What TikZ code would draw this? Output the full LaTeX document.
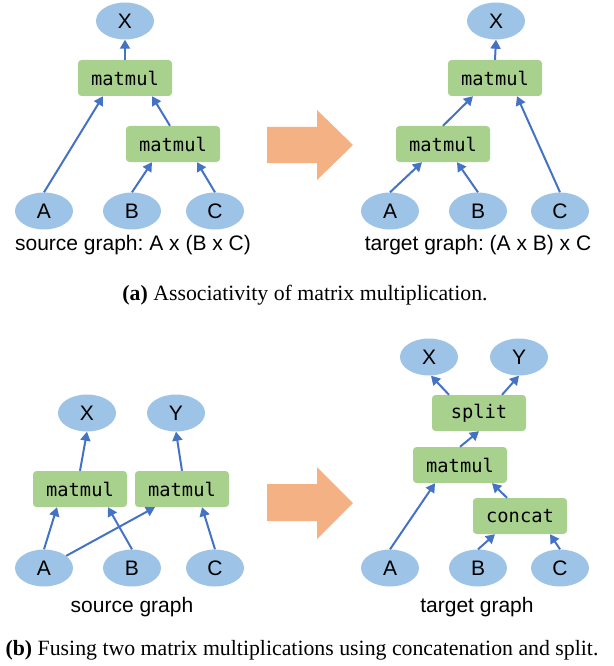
\documentclass[tikz,border=0pt]{standalone}
\usepackage{fontspec}
\setmainfont{Liberation Serif}
\newfontfamily\arialfont{Liberation Sans}
\newfontfamily\monofont{DejaVu Sans Mono}
\usetikzlibrary{arrows.meta,shapes.geometric}
\definecolor{ellblue}{HTML}{9DC3E6}
\definecolor{opgreen}{HTML}{A9D18E}
\definecolor{edgeblue}{HTML}{4472C4}
\definecolor{bigorange}{HTML}{F4B183}
\frenchspacing
\tikzset{
  tensor/.style={ellipse, fill=ellblue, draw=none, minimum width=58pt, minimum height=37pt, inner sep=0pt, font=\arialfont\fontsize{21}{24}\selectfont},
  opbox/.style={rectangle, rounded corners=3.5pt, fill=opgreen, draw=none, minimum width=94pt, minimum height=36pt, inner sep=0pt, font=\monofont\fontsize{18.7}{22}\selectfont},
  flow/.style={draw=edgeblue, line width=2pt, -{Triangle[length=9pt,width=10pt]}},
  graphlabel/.style={font=\arialfont\fontsize{21}{24}\selectfont, inner sep=0pt},
  captionlabel/.style={font=\fontsize{21.8}{24}\selectfont, inner sep=0pt},
  bigarrow/.style={fill=bigorange, draw=none}
}
\begin{document}
\begin{tikzpicture}[x=1pt,y=-1pt]
\useasboundingbox (0,0) rectangle (613,666);

% ---------- (a) source ----------
\node[tensor] (aX) at (125,21) {X};
\node[opbox] (am1) at (125,78) {matmul};
\node[opbox] (am2) at (173,144) {matmul};
\node[tensor] (aA) at (44,211) {A};
\node[tensor] (aB) at (132,211) {B};
\node[tensor] (aC) at (215,211) {C};
\draw[flow] (aA.north) -- ([xshift=-22pt]am1.south);
\draw[flow] ([xshift=-3pt]am2.north) -- ([xshift=27pt]am1.south);
\draw[flow] (aB.north) -- ([xshift=-21pt]am2.south);
\draw[flow] (aC.north) -- ([xshift=24pt]am2.south);
\draw[flow] (am1.north) -- (aX.south);
\node[graphlabel] (alabs) at (133,245) {source graph: A x (B x C)};

% big arrow (a)
\path[bigarrow] (267,127) -- (317,127) -- (317,110) -- (353,145) -- (317,180) -- (317,163) -- (267,163) -- cycle;

% ---------- (a) target ----------
\node[tensor] (tX) at (496,21) {X};
\node[opbox] (tmt) at (495,78) {matmul};
\node[opbox] (tml) at (443,144) {matmul};
\node[tensor] (tA) at (390,211) {A};
\node[tensor] (tB) at (478,211) {B};
\node[tensor] (tC) at (560,211) {C};
\draw[flow] (tA.north) -- ([xshift=-21pt]tml.south);
\draw[flow] (tB.north) -- ([xshift=14pt]tml.south);
\draw[flow] (tml.north) -- ([xshift=-22pt]tmt.south);
\draw[flow] (tC.north) -- ([xshift=22pt]tmt.south);
\draw[flow] (tmt.north) -- (tX.south);
\node[graphlabel] (alabt) at (478,245) {target graph: (A x B) x C};

\node[captionlabel] (capa) at (305,295) {\textbf{(a)} Associativity of matrix multiplication.};

% ---------- (b) source ----------
\node[tensor] (bX) at (87,413) {X};
\node[tensor] (bY) at (176,413) {Y};
\node[opbox] (bml) at (80,489) {matmul};
\node[opbox] (bmr) at (182,489) {matmul};
\node[tensor] (bA) at (44,568) {A};
\node[tensor] (bB) at (132,568) {B};
\node[tensor] (bC) at (215,568) {C};
\draw[flow] (bA.north) -- ([xshift=-23pt]bml.south);
\draw[flow] (bA) -- ([xshift=-27pt]bmr.south);
\draw[flow] (bB.north) -- ([xshift=28pt]bml.south);
\draw[flow] (bC.north) -- ([xshift=20pt]bmr.south);
\draw[flow] (bml.north) -- (bX.south);
\draw[flow] (bmr.north) -- (bY.south);
\node[graphlabel] (blabs) at (132,607) {source graph};

% big arrow (b)
\path[bigarrow] (267,484) -- (317,484) -- (317,467) -- (353,503) -- (317,539) -- (317,521) -- (267,521) -- cycle;

% ---------- (b) target ----------
\node[tensor] (uX) at (429,357) {X};
\node[tensor] (uY) at (519,357) {Y};
\node[opbox] (usplit) at (479,413) {split};
\node[opbox] (umm) at (460,465) {matmul};
\node[opbox] (ucat) at (520,516) {concat};
\node[tensor] (uA) at (390,568) {A};
\node[tensor] (uB) at (478,568) {B};
\node[tensor] (uC) at (560,568) {C};
\draw[flow] ([xshift=-30pt]usplit.north) -- ([xshift=2pt]uX.south);
\draw[flow] ([xshift=23pt]usplit.north) -- (uY.south);
\draw[flow] (umm.north) -- (usplit.south);
\draw[flow] (uA.north) -- ([xshift=-25pt]umm.south);
\draw[flow] ([xshift=-13pt]ucat.north) -- ([xshift=32pt]umm.south);
\draw[flow] (uB.north) -- ([xshift=-25pt]ucat.south);
\draw[flow] (uC.north) -- ([xshift=30pt]ucat.south);
\node[graphlabel] (blabt) at (477,607) {target graph};

\node[captionlabel] (capb) at (302,650) {\textbf{(b)} Fusing two matrix multiplications using concatenation and split.};
\end{tikzpicture}
\end{document}
